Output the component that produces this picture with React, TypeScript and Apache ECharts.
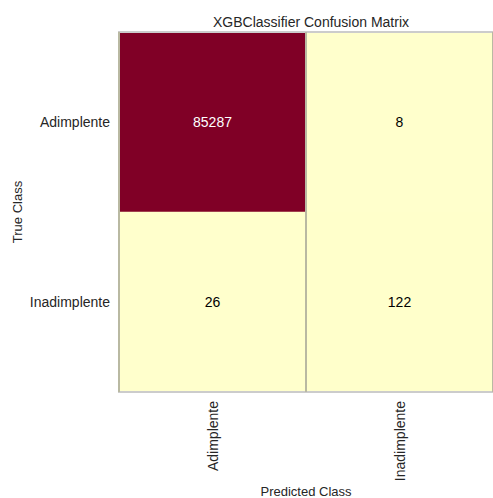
import React, { useEffect, useRef } from "react";
import * as echarts from "echarts";

// Confusion matrix of the XGBoost classifier
const classes = ["Adimplente", "Inadimplente"];
const trueClasses = ["Adimplente", "Inadimplente"];
// rows = true class, columns = predicted class
const countsAdimplente = [85287, 8];
const countsInadimplente = [26, 122];

const ylOrRd = [
  "#ffffcc",
  "#ffeda0",
  "#fed976",
  "#feb24c",
  "#fd8d3c",
  "#fc4e2a",
  "#e31a1c",
  "#bd0026",
  "#800026",
];

const FONT = "Liberation Sans, Arial, sans-serif";
const W = 493;
const H = 498;

export default function App() {
  const ref = useRef<HTMLDivElement>(null);

  useEffect(() => {
    if (!ref.current) return;
    const chart = echarts.init(ref.current, undefined, { renderer: "svg", width: W, height: H });
    const rows = [countsAdimplente, countsInadimplente];
    const data: [number, number, number][] = [];
    rows.forEach((row, yi) => row.forEach((v, xi) => data.push([xi, yi, v])));
    const maxVal = Math.max(...data.map((d) => d[2]));

    chart.setOption({
      animation: false,
      backgroundColor: "#ffffff",
      textStyle: { fontFamily: FONT },
      title: {
        text: "XGBClassifier Confusion Matrix",
        left: 306,
        top: 10,
        textAlign: "center",
        textStyle: { fontSize: 14, fontWeight: "normal", color: "#262626", fontFamily: FONT },
      },
      grid: {
        left: 119,
        right: 0,
        top: 32,
        bottom: 106,
        outerBoundsMode: "none",
        show: true,
        z: 5,
        borderColor: "#cccccc",
        borderWidth: 2,
        backgroundColor: "transparent",
      },
      visualMap: {
        show: false,
        min: 0,
        max: maxVal,
        dimension: 2,
        inRange: { color: ylOrRd },
      },
      xAxis: {
        type: "category",
        data: classes,
        name: "Predicted Class",
        nameLocation: "middle",
        nameGap: 93,
        nameMoveOverlap: false,
        nameTextStyle: { fontSize: 13, color: "#262626", fontFamily: FONT },
        axisLine: { show: false },
        axisTick: { show: false },
        axisLabel: { rotate: 90, fontSize: 14, color: "#262626", margin: 9, fontFamily: FONT },
        splitLine: { show: true, lineStyle: { color: "#b9b9a2", width: 2 } },
        z: 6,
      },
      yAxis: {
        type: "category",
        data: trueClasses,
        inverse: true,
        name: "True Class",
        nameLocation: "middle",
        nameGap: 95,
        nameMoveOverlap: false,
        nameRotate: 90,
        nameTextStyle: { fontSize: 13, color: "#262626", fontFamily: FONT },
        axisLine: { show: false },
        axisTick: { show: false },
        axisLabel: { fontSize: 14, color: "#262626", margin: 9, fontFamily: FONT },
        splitLine: { show: false },
      },
      series: [
        {
          type: "heatmap",
          data: data.map((d) => ({
            value: d,
            // white text on the dark cell
            label: { color: d[2] > maxVal / 2 ? "#ffffff" : "#000000" },
          })),
          label: {
            show: true,
            fontSize: 14,
            fontFamily: FONT,
            formatter: (p: any) => String(p.value[2]),
          },
          itemStyle: { borderWidth: 0 },
          emphasis: { disabled: true },
        },
      ],
    });

    return () => chart.dispose();
  }, []);

  return (
    <div
      ref={ref}
      style={{ position: "absolute", left: 0, top: 0, width: W, height: H }}
    />
  );
}
